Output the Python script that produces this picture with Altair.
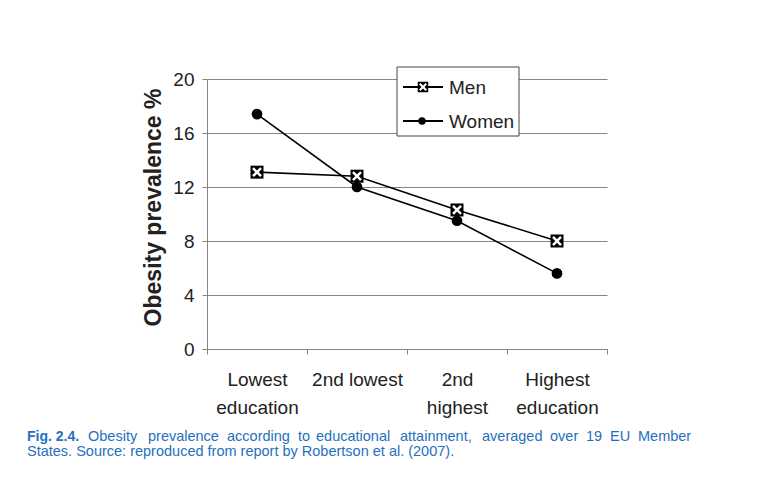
import altair as alt
import pandas as pd

categories = ["Lowest education", "2nd lowest", "2nd highest", "Highest education"]
label_lines = [["Lowest", "education"], ["2nd lowest"], ["2nd", "highest"], ["Highest", "education"]]
series = ["Men", "Women"]
men = [13.1, 12.8, 10.3, 8.0]
women = [17.4, 12.0, 9.5, 5.6]
y_ticks = [0, 4, 8, 12, 16, 20]

y_title = "Obesity prevalence %"
caption_bold = "Fig. 2.4."
caption_words1 = ["Obesity", "prevalence", "according", "to", "educational", "attainment,",
                  "averaged", "over", "19", "EU", "Member"]
caption_line2 = "States. Source: reproduced from report by Robertson et al. (2007)."

df = pd.DataFrame({
    "category": categories * 2,
    "series": [series[0]] * len(men) + [series[1]] * len(women),
    "value": men + women,
})

FONT = "Liberation Sans, Arial, sans-serif"
GRID = "#858585"
BLUE = "#2670bd"
XPATH = "M-0.62,-0.62L0.62,0.62M0.62,-0.62L-0.62,0.62"

# multi-line tick labels
parts = []
for cat, lines in zip(categories, label_lines):
    arr = "[" + ",".join("'" + l + "'" for l in lines) + "]"
    parts.append(f"datum.label == '{cat}' ? {arr} : ")
label_expr = "".join(parts) + "datum.label"

x_enc = alt.X(
    "category:N", sort=categories,
    scale=alt.Scale(paddingInner=0, paddingOuter=0),
    axis=alt.Axis(
        title=None, labelAngle=0, tickBand="extent", labelExpr=label_expr,
        labelFont=FONT, labelFontSize=19, labelLineHeight=28, labelColor="#222",
        labelPadding=16, tickSize=5, tickColor=GRID, domainColor=GRID,
        grid=False, labelBaseline="top",
    ),
)
y_enc = alt.Y(
    "value:Q",
    scale=alt.Scale(domain=[0, 20], nice=False),
    axis=alt.Axis(
        values=y_ticks, title=y_title, titleFont=FONT, titleFontSize=23,
        titleFontWeight="bold", titleColor="#222", titlePadding=7, titleY=128,
        labelFont=FONT, labelFontSize=19, labelColor="#222", labelPadding=8,
        tickSize=5, tickColor=GRID, domainColor=GRID,
        grid=True, gridColor=GRID, gridWidth=1,
    ),
)

base = alt.Chart(df).encode(x=x_enc, y=y_enc)

lines = base.mark_line(color="black", strokeWidth=1.6).encode(detail="series:N")
men_sq = base.transform_filter(alt.datum.series == series[0]).mark_point(
    shape="square", filled=True, color="black", size=169, opacity=1)
men_x = base.transform_filter(alt.datum.series == series[0]).mark_point(
    shape=XPATH, filled=False, stroke="white", strokeWidth=2.5, size=169, opacity=1)
women_pt = base.transform_filter(alt.datum.series == series[1]).mark_point(
    shape="circle", filled=True, color="black", size=115, opacity=1)

# legend (decoration)
one = pd.DataFrame({"k": [0]})
leg_box = alt.Chart(one).mark_rect(fill="white", stroke="#444", strokeWidth=1).encode(
    x=alt.value(190), x2=alt.value(312), y=alt.value(-12), y2=alt.value(57))
leg_items = []
for name, yv in zip(series, [8, 42]):
    leg_items.append(alt.Chart(one).mark_rule(color="black", strokeWidth=1.8).encode(
        x=alt.value(196), x2=alt.value(236), y=alt.value(yv)))
    leg_items.append(alt.Chart(one).mark_text(
        align="left", baseline="middle", font=FONT, fontSize=19, color="#222").encode(
        x=alt.value(242), y=alt.value(yv + 1), text=alt.value(name)))
leg_items.append(alt.Chart(one).mark_point(shape="square", filled=True, color="black", size=110, opacity=1).encode(
    x=alt.value(216), y=alt.value(8)))
leg_items.append(alt.Chart(one).mark_point(shape=XPATH, filled=False, stroke="white", strokeWidth=2, size=110, opacity=1).encode(
    x=alt.value(216), y=alt.value(8)))
leg_items.append(alt.Chart(one).mark_point(shape="circle", filled=True, color="black", size=55, opacity=1).encode(
    x=alt.value(215), y=alt.value(42)))

# caption (decoration) - first line justified word by word
OX = 207
cap = []
cap.append(alt.Chart(one).mark_text(align="left", baseline="alphabetic", font=FONT, fontSize=14,
                                     fontWeight="bold", color=BLUE).encode(
    x=alt.value(27 - OX), y=alt.value(362), text=alt.value(caption_bold)))
word_px = [88, 148, 227, 298, 316, 400, 482, 550, 586, 610, 638]
for w, px in zip(caption_words1, word_px):
    cap.append(alt.Chart(one).mark_text(align="left", baseline="alphabetic", font=FONT, fontSize=14.5,
                                         color=BLUE).encode(
        x=alt.value(px - OX), y=alt.value(362), text=alt.value(w)))
cap.append(alt.Chart(one).mark_text(align="left", baseline="alphabetic", font=FONT, fontSize=14.5,
                                     color=BLUE).encode(
    x=alt.value(27 - OX), y=alt.value(377), text=alt.value(caption_line2)))

chart = alt.layer(lines, men_sq, men_x, women_pt, leg_box, *leg_items, *cap).properties(
    width=400, height=270,
    autosize=alt.AutoSizeParams(type="none"),
    padding={"left": 199, "top": 71, "right": 162, "bottom": 125},
    background="white",
).configure_view(stroke=None)

chart.save("out.html", embed_options={"renderer": "svg", "actions": False})
